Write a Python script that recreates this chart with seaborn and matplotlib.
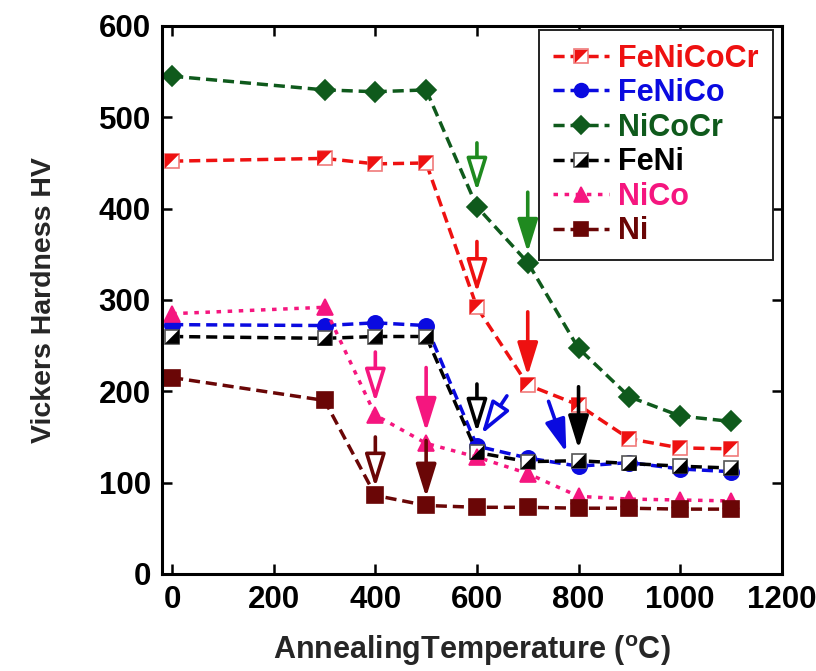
import numpy as np
import pandas as pd
import matplotlib
matplotlib.use("Agg")
import matplotlib.pyplot as plt
from matplotlib.lines import Line2D
from matplotlib.legend_handler import HandlerTuple
import seaborn as sns

# ---------------- data ----------------
temps = [0, 300, 400, 500, 600, 700, 800, 900, 1000, 1100]
alloys = ["FeNiCoCr", "FeNiCo", "NiCoCr", "FeNi", "NiCo", "Ni"]
hv_FeNiCoCr = [452, 455, 449, 450, 292, 207, 185, 148, 138, 137]
hv_FeNiCo = [273, 272, 275, 272, 140, 127, 118, 122, 115, 112]
hv_NiCoCr = [545, 530, 528, 530, 402, 341, 247, 194, 173, 167]
hv_FeNi = [260, 258, 260, 260, 133, 123, 124, 121, 118, 116]
hv_NiCo = [285, 292, 174, 143, 128, 110, 85, 82, 81, 80]
hv_Ni = [215, 190, 86, 75, 73, 73, 72, 72, 71, 71]
series = [hv_FeNiCoCr, hv_FeNiCo, hv_NiCoCr, hv_FeNi, hv_NiCo, hv_Ni]

# arrow annotations: tail -> tip, colour key, open head?
arrow_tail_T = [600, 700, 600, 700, 600, 659, 741, 800, 400, 500, 400, 500]
arrow_tail_HV = [472, 418, 364, 287, 208, 195, 189, 205, 243, 226, 150, 146]
arrow_tip_T = [600, 700, 600, 700, 600, 609, 776, 800, 400, 500, 400, 500]
arrow_tip_HV = [419, 352, 308, 217, 155, 153, 133, 137, 188, 156, 95, 84]
arrow_color = ["garrow", "garrow", "red", "red", "black", "blue", "blue", "black",
               "pink", "pink", "dred", "dred"]
arrow_open = [True, False, True, False, True, True, False, False, True, False, True, False]

# ---------------- styles ----------------
COL = {"FeNiCoCr": "#ee1111", "FeNiCo": "#0a0ae0", "NiCoCr": "#0f5a1c",
       "FeNi": "#000000", "NiCo": "#f5167f", "Ni": "#6a0606"}
ACOL = {"garrow": "#1f8a1f", "red": "#ee1111", "black": "#000000", "blue": "#0a0ae0",
        "pink": "#f5167f", "dred": "#6a0606"}
TRI_UL = [(-1, -1), (-1, 1), (1, 1), (-1, -1)]
TRI_LR = [(-1, -1), (1, -1), (1, 1), (-1, -1)]

sns.set_theme(style="ticks")
plt.rcParams["font.family"] = ["Liberation Sans", "DejaVu Sans"]
plt.rcParams["font.weight"] = "bold"
plt.rcParams["mathtext.fontset"] = "custom"
plt.rcParams["mathtext.rm"] = "Liberation Sans:bold"
plt.rcParams["mathtext.it"] = "Liberation Sans:bold"
plt.rcParams["mathtext.bf"] = "Liberation Sans:bold"

fig = plt.figure(figsize=(8.16, 6.71), dpi=100)
ax = fig.add_axes([0.1985, 0.1446, 0.7595, 0.8167])

LW = 2.5
DASH = (3.2, 1.7)
DOT = (1.3, 1.9)

spec = {
    "FeNiCoCr": dict(marker="s", ms=10.5, mfc="white", mec="#f07a7a", dash=DASH, over=TRI_UL),
    "FeNiCo": dict(marker="o", ms=11, mfc=COL["FeNiCo"], mec=COL["FeNiCo"], dash=DASH, over=None),
    "NiCoCr": dict(marker="D", ms=10, mfc=COL["NiCoCr"], mec=COL["NiCoCr"], dash=DASH, over=None),
    "FeNi": dict(marker="s", ms=10.5, mfc="white", mec="#555555", dash=DASH, over=TRI_LR),
    "NiCo": dict(marker="^", ms=12, mfc=COL["NiCo"], mec=COL["NiCo"], dash=DOT, over=None),
    "Ni": dict(marker="s", ms=11, mfc=COL["Ni"], mec=COL["Ni"], dash=DASH, over=None),
}

handles = []
for name, vals in zip(alloys, series):
    s = spec[name]
    c = COL[name]
    df = pd.DataFrame({"T": temps, "HV": vals})
    sns.lineplot(data=df, x="T", y="HV", ax=ax, color=c, lw=LW,
                 marker=s["marker"], markersize=s["ms"], markerfacecolor=s["mfc"],
                 markeredgecolor=s["mec"], markeredgewidth=1.2, legend=False)
    ax.lines[-1].set_dashes(s["dash"])
    h = [Line2D([], [], color=c, lw=LW, dashes=s["dash"], marker=s["marker"], ms=s["ms"] * 0.9,
                mfc=s["mfc"], mec=s["mec"], mew=1.2)]
    if s["over"] is not None:
        sns.scatterplot(data=df, x="T", y="HV", ax=ax, marker=s["over"], s=(s["ms"]) ** 2,
                        color=c, edgecolor="none", linewidth=0, legend=False, zorder=3)
        h.append(Line2D([], [], ls="none", marker=s["over"], ms=s["ms"] * 0.9, color=c, mew=0))
    handles.append(tuple(h))

# arrows
for tT, tH, pT, pH, ck, op in zip(arrow_tail_T, arrow_tail_HV, arrow_tip_T, arrow_tip_HV,
                                  arrow_color, arrow_open):
    c = ACOL[ck]
    ax.annotate("", xy=(pT, pH), xytext=(tT, tH),
                arrowprops=dict(arrowstyle="-|>,head_length=2.0,head_width=0.62",
                                mutation_scale=10, lw=2.6, ec=c,
                                fc="white" if op else c, shrinkA=0, shrinkB=0),
                zorder=5)

ax.set_xlim(-20, 1200)
ax.set_ylim(0, 600)
ax.set_xticks([0, 200, 400, 600, 800, 1000, 1200])
ax.set_yticks([0, 100, 200, 300, 400, 500, 600])
ax.tick_params(direction="in", length=7, width=1.8, top=True, right=True,
               labelsize=22.5, pad=8, colors="black")
for lab in ax.get_xticklabels() + ax.get_yticklabels():
    lab.set_fontweight("bold")
for sp in ax.spines.values():
    sp.set_linewidth(2.2)
    sp.set_color("black")

ax.set_xlabel("AnnealingTemperature ($^{o}$C)", fontsize=22, fontweight="bold", labelpad=13)
ax.set_ylabel("Vickers Hardness HV", fontsize=20.5, fontweight="bold", labelpad=30)

leg = ax.legend(handles, alloys, loc="upper right", bbox_to_anchor=(0.9855, 0.993),
                borderaxespad=0, frameon=True, fancybox=False, framealpha=1,
                handlelength=1.85, handletextpad=0.3, borderpad=0.45, labelspacing=0.15,
                handler_map={tuple: HandlerTuple(ndivide=1)},
                prop={"weight": "bold", "size": 22})
leg.set_zorder(10)
leg.get_frame().set_edgecolor("#222222")
leg.get_frame().set_linewidth(1.4)
for txt, name in zip(leg.get_texts(), alloys):
    txt.set_color(COL[name])

fig.savefig("out.png", dpi=100)
